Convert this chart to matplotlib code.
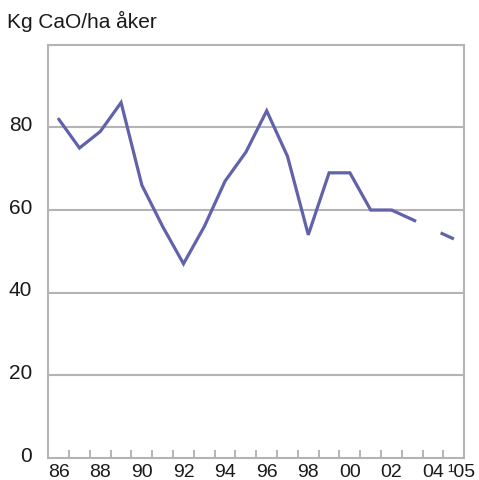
import matplotlib
matplotlib.use("Agg")
import matplotlib.pyplot as plt
import matplotlib.transforms as mtransforms
import numpy as np

plt.rcParams['font.family'] = ['Liberation Sans', 'DejaVu Sans']
plt.rcParams['lines.scale_dashes'] = False

# data
years = ['86', '87', '88', '89', '90', '91', '92', '93', '94', '95',
         '96', '97', '98', '99', '00', '01', '02', '03', '04', '05']
kg_cao = [82, 75, 79, 86, 66, 56, 47, 56, 67, 74,
          84, 73, 54, 69, 69, 60, 60, 57.7, 55.3, 53]
tick_labels = ['86', '88', '90', '92', '94', '96', '98', '00', '02', '04', '\u00b905']
title = 'Kg CaO/ha åker'

line_col = '#6262aa'
grey = '#b4b4b4'
txt = '#1a1a1a'

fig = plt.figure(figsize=(4.79, 4.81), dpi=100)
ax = fig.add_axes([0.1008, 0.0457, 0.9693 - 0.1008, 0.905 - 0.0457])

x = np.arange(len(years))
solid_end = years.index('02') + 1
ax.plot(x[:solid_end], kg_cao[:solid_end], color=line_col, lw=2.3,
        solid_joinstyle='miter', solid_capstyle='round', zorder=3)
# last years drawn with a gap
ax.plot(x[solid_end - 1:], kg_cao[solid_end - 1:], color=line_col, lw=2.3,
        linestyle=(0, (19.5, 19.5, 100, 10)), dash_capstyle='butt', zorder=3)

ax.set_xlim(-0.5, len(years) - 0.5)
ax.set_ylim(0, 100)

for v in [20, 40, 60, 80]:
    ax.axhline(v, color=grey, lw=1.5, zorder=1)

for s in ax.spines.values():
    s.set_color(grey)
    s.set_linewidth(1.5)

ax.set_yticks([0, 20, 40, 60, 80])
ax.tick_params(axis='y', length=0, pad=11.5, labelsize=15, labelcolor=txt)
off = mtransforms.ScaledTranslation(0, 5 / 100, fig.dpi_scale_trans)
for lab in ax.get_yticklabels():
    lab.set_transform(lab.get_transform() + off)

major_pos = list(range(0, 19, 2)) + [19.35]
ax.set_xticks(major_pos)
ax.set_xticklabels(tick_labels)
ax.set_xticks(np.arange(0.5, len(years) - 1, 1), minor=True)
ax.tick_params(axis='x', which='major', length=0, pad=13, labelsize=14, labelcolor=txt)
ax.tick_params(axis='x', which='minor', direction='in', length=5.8, width=1.4, color=grey)
for lab in ax.get_xticklabels():
    lab.set_verticalalignment('baseline')

fig.text(0.015, 1 - 28 / 481, title, fontsize=15, color=txt, va='baseline', ha='left')

fig.savefig('out.png', dpi=100)
